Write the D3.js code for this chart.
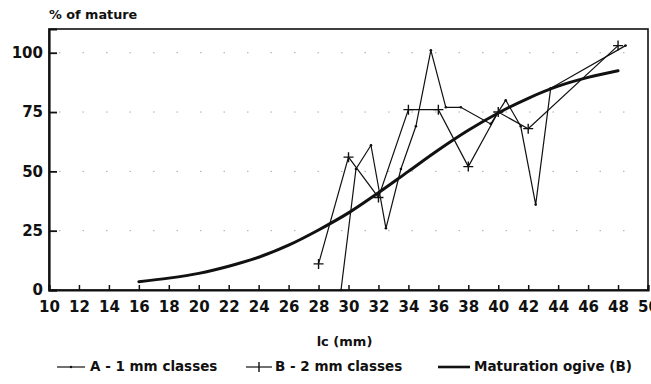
<!DOCTYPE html>
<html>
<head>
<meta charset="utf-8">
<script src="https://cdn.jsdelivr.net/npm/d3@7"></script>
<style>
  html, body { margin: 0; padding: 0; background: #fff; }
  svg { display: block; }
  text { font-family: "DejaVu Sans", sans-serif; font-weight: bold; fill: #111; }
</style>
</head>
<body>
<svg id="chart" width="651" height="384"></svg>
<script>
// Carapace length (lc, mm) and percentage of mature individuals
const seriesA_lc  = [29.5, 30.5, 31.5, 32.5, 33.5, 34.5, 35.5, 36.5, 37.5, 39.5, 40.5, 41.5, 42.5, 43.5, 48.5];
const seriesA_pct = [0, 51, 61, 26, 51, 69, 101, 77, 77, 70, 80, 69, 36, 85, 103];

const seriesB_lc  = [28, 30, 32, 34, 36, 38, 40, 42, 48];
const seriesB_pct = [11, 56, 39, 76, 76, 52, 75, 68, 103];

const ogive_lc  = [16, 18, 20, 22, 24, 26, 28, 30, 32, 34, 36, 38, 40, 42, 44, 46, 48];
const ogive_pct = [3.5, 5, 7, 10, 13.8, 18.9, 25.3, 32.5, 41, 50, 59, 67.3, 74.6, 80.8, 85.9, 89.6, 92.4];

const xTicks = [10, 12, 14, 16, 18, 20, 22, 24, 26, 28, 30, 32, 34, 36, 38, 40, 42, 44, 46, 48, 50];
const yTicks = [0, 25, 50, 75, 100];

const legendLabels = ["A - 1 mm classes", "B - 2 mm classes", "Maturation ogive (B)"];

const svg = d3.select("#chart");
const plotLeft = 49, plotRight = 648, plotTop = 29, plotBottom = 290;

const x = d3.scaleLinear().domain([10, 50]).range([plotLeft, plotRight]);
const y = d3.scaleLinear().domain([0, 110]).range([plotBottom, plotTop]);

const ink = "#111";

// faint dotted grid at the y ticks
svg.append("g")
  .selectAll("line")
  .data(yTicks.filter(d => d > 0))
  .join("line")
  .attr("x1", plotLeft + 10).attr("x2", plotRight - 4)
  .attr("y1", d => y(d)).attr("y2", d => y(d))
  .attr("stroke", "#888")
  .attr("stroke-width", 1)
  .attr("stroke-dasharray", "1.5,22")
  .attr("opacity", 0.7);

// frame
svg.append("rect")
  .attr("x", plotLeft).attr("y", plotTop)
  .attr("width", plotRight - plotLeft).attr("height", plotBottom - plotTop)
  .attr("fill", "none").attr("stroke", ink).attr("stroke-width", 1.6);

// x axis
const xAxis = d3.axisBottom(x).tickValues(xTicks).tickSize(-5).tickPadding(11).tickFormat(d3.format("d"));
const gx = svg.append("g").attr("transform", `translate(0,${plotBottom})`).call(xAxis);
gx.select(".domain").attr("stroke", ink).attr("stroke-width", 2.2);
gx.selectAll(".tick line").attr("stroke", ink).attr("stroke-width", 1.5);
gx.selectAll(".tick text").attr("font-size", 15).attr("fill", ink)
  .style("font-family", "DejaVu Sans").style("font-weight", "bold");

// y axis
const yAxis = d3.axisLeft(y).tickValues(yTicks).tickSize(-8).tickPadding(6).tickFormat(d3.format("d"));
const gy = svg.append("g").attr("transform", `translate(${plotLeft},0)`).call(yAxis);
gy.select(".domain").attr("stroke", ink).attr("stroke-width", 2.2);
gy.selectAll(".tick line").attr("stroke", ink).attr("stroke-width", 1.8);
gy.selectAll(".tick text").attr("font-size", 15).attr("fill", ink)
  .style("font-family", "DejaVu Sans").style("font-weight", "bold");

// titles
svg.append("text").attr("x", 49).attr("y", 19).attr("font-size", 12.8).text("% of mature");
svg.append("text").attr("x", (plotLeft + plotRight) / 2 - 4).attr("y", 346)
  .attr("text-anchor", "middle").attr("font-size", 13).text("lc (mm)");

const line = d3.line().x(d => x(d[0])).y(d => y(d[1]));

// series A: 1 mm classes
const dataA = seriesA_lc.map((v, i) => [v, seriesA_pct[i]]);
svg.append("path").datum(dataA)
  .attr("d", line).attr("fill", "none").attr("stroke", ink).attr("stroke-width", 1.2);
svg.append("g").selectAll("circle").data(dataA).join("circle")
  .attr("cx", d => x(d[0])).attr("cy", d => y(d[1])).attr("r", 1.3).attr("fill", ink);

// series B: 2 mm classes
const dataB = seriesB_lc.map((v, i) => [v, seriesB_pct[i]]);
svg.append("path").datum(dataB)
  .attr("d", line).attr("fill", "none").attr("stroke", ink).attr("stroke-width", 1.2);
svg.append("g").selectAll("path").data(dataB).join("path")
  .attr("transform", d => `translate(${x(d[0])},${y(d[1])})`)
  .attr("d", "M-5,0H5M0,-5V5")
  .attr("stroke", ink).attr("stroke-width", 1.4).attr("fill", "none");

// maturation ogive
const dataO = ogive_lc.map((v, i) => [v, ogive_pct[i]]);
svg.append("path").datum(dataO)
  .attr("d", d3.line().x(d => x(d[0])).y(d => y(d[1])).curve(d3.curveMonotoneX))
  .attr("fill", "none").attr("stroke", ink).attr("stroke-width", 3).attr("stroke-linecap", "round");

// legend
const legY = 371;
const legend = [
  { x0: 57, x1: 85, tx: 90, w: 1.2, mark: "dot" },
  { x0: 246, x1: 272, tx: 275, w: 1.2, mark: "plus" },
  { x0: 438, x1: 470, tx: 474, w: 2.6, mark: null }
];
legend.forEach((l, i) => {
  const g = svg.append("g");
  g.append("line").attr("x1", l.x0).attr("x2", l.x1).attr("y1", legY - 4).attr("y2", legY - 4)
    .attr("stroke", ink).attr("stroke-width", l.w);
  const mx = (l.x0 + l.x1) / 2;
  if (l.mark === "dot") {
    g.append("circle").attr("cx", mx).attr("cy", legY - 4).attr("r", 1.2).attr("fill", ink);
  } else if (l.mark === "plus") {
    g.append("path").attr("d", `M${mx},${legY - 9}V${legY + 1}`).attr("stroke", ink).attr("stroke-width", 1.4);
  }
  g.append("text").attr("x", l.tx).attr("y", legY).attr("font-size", 13.5).text(legendLabels[i]);
});
</script>
</body>
</html>
